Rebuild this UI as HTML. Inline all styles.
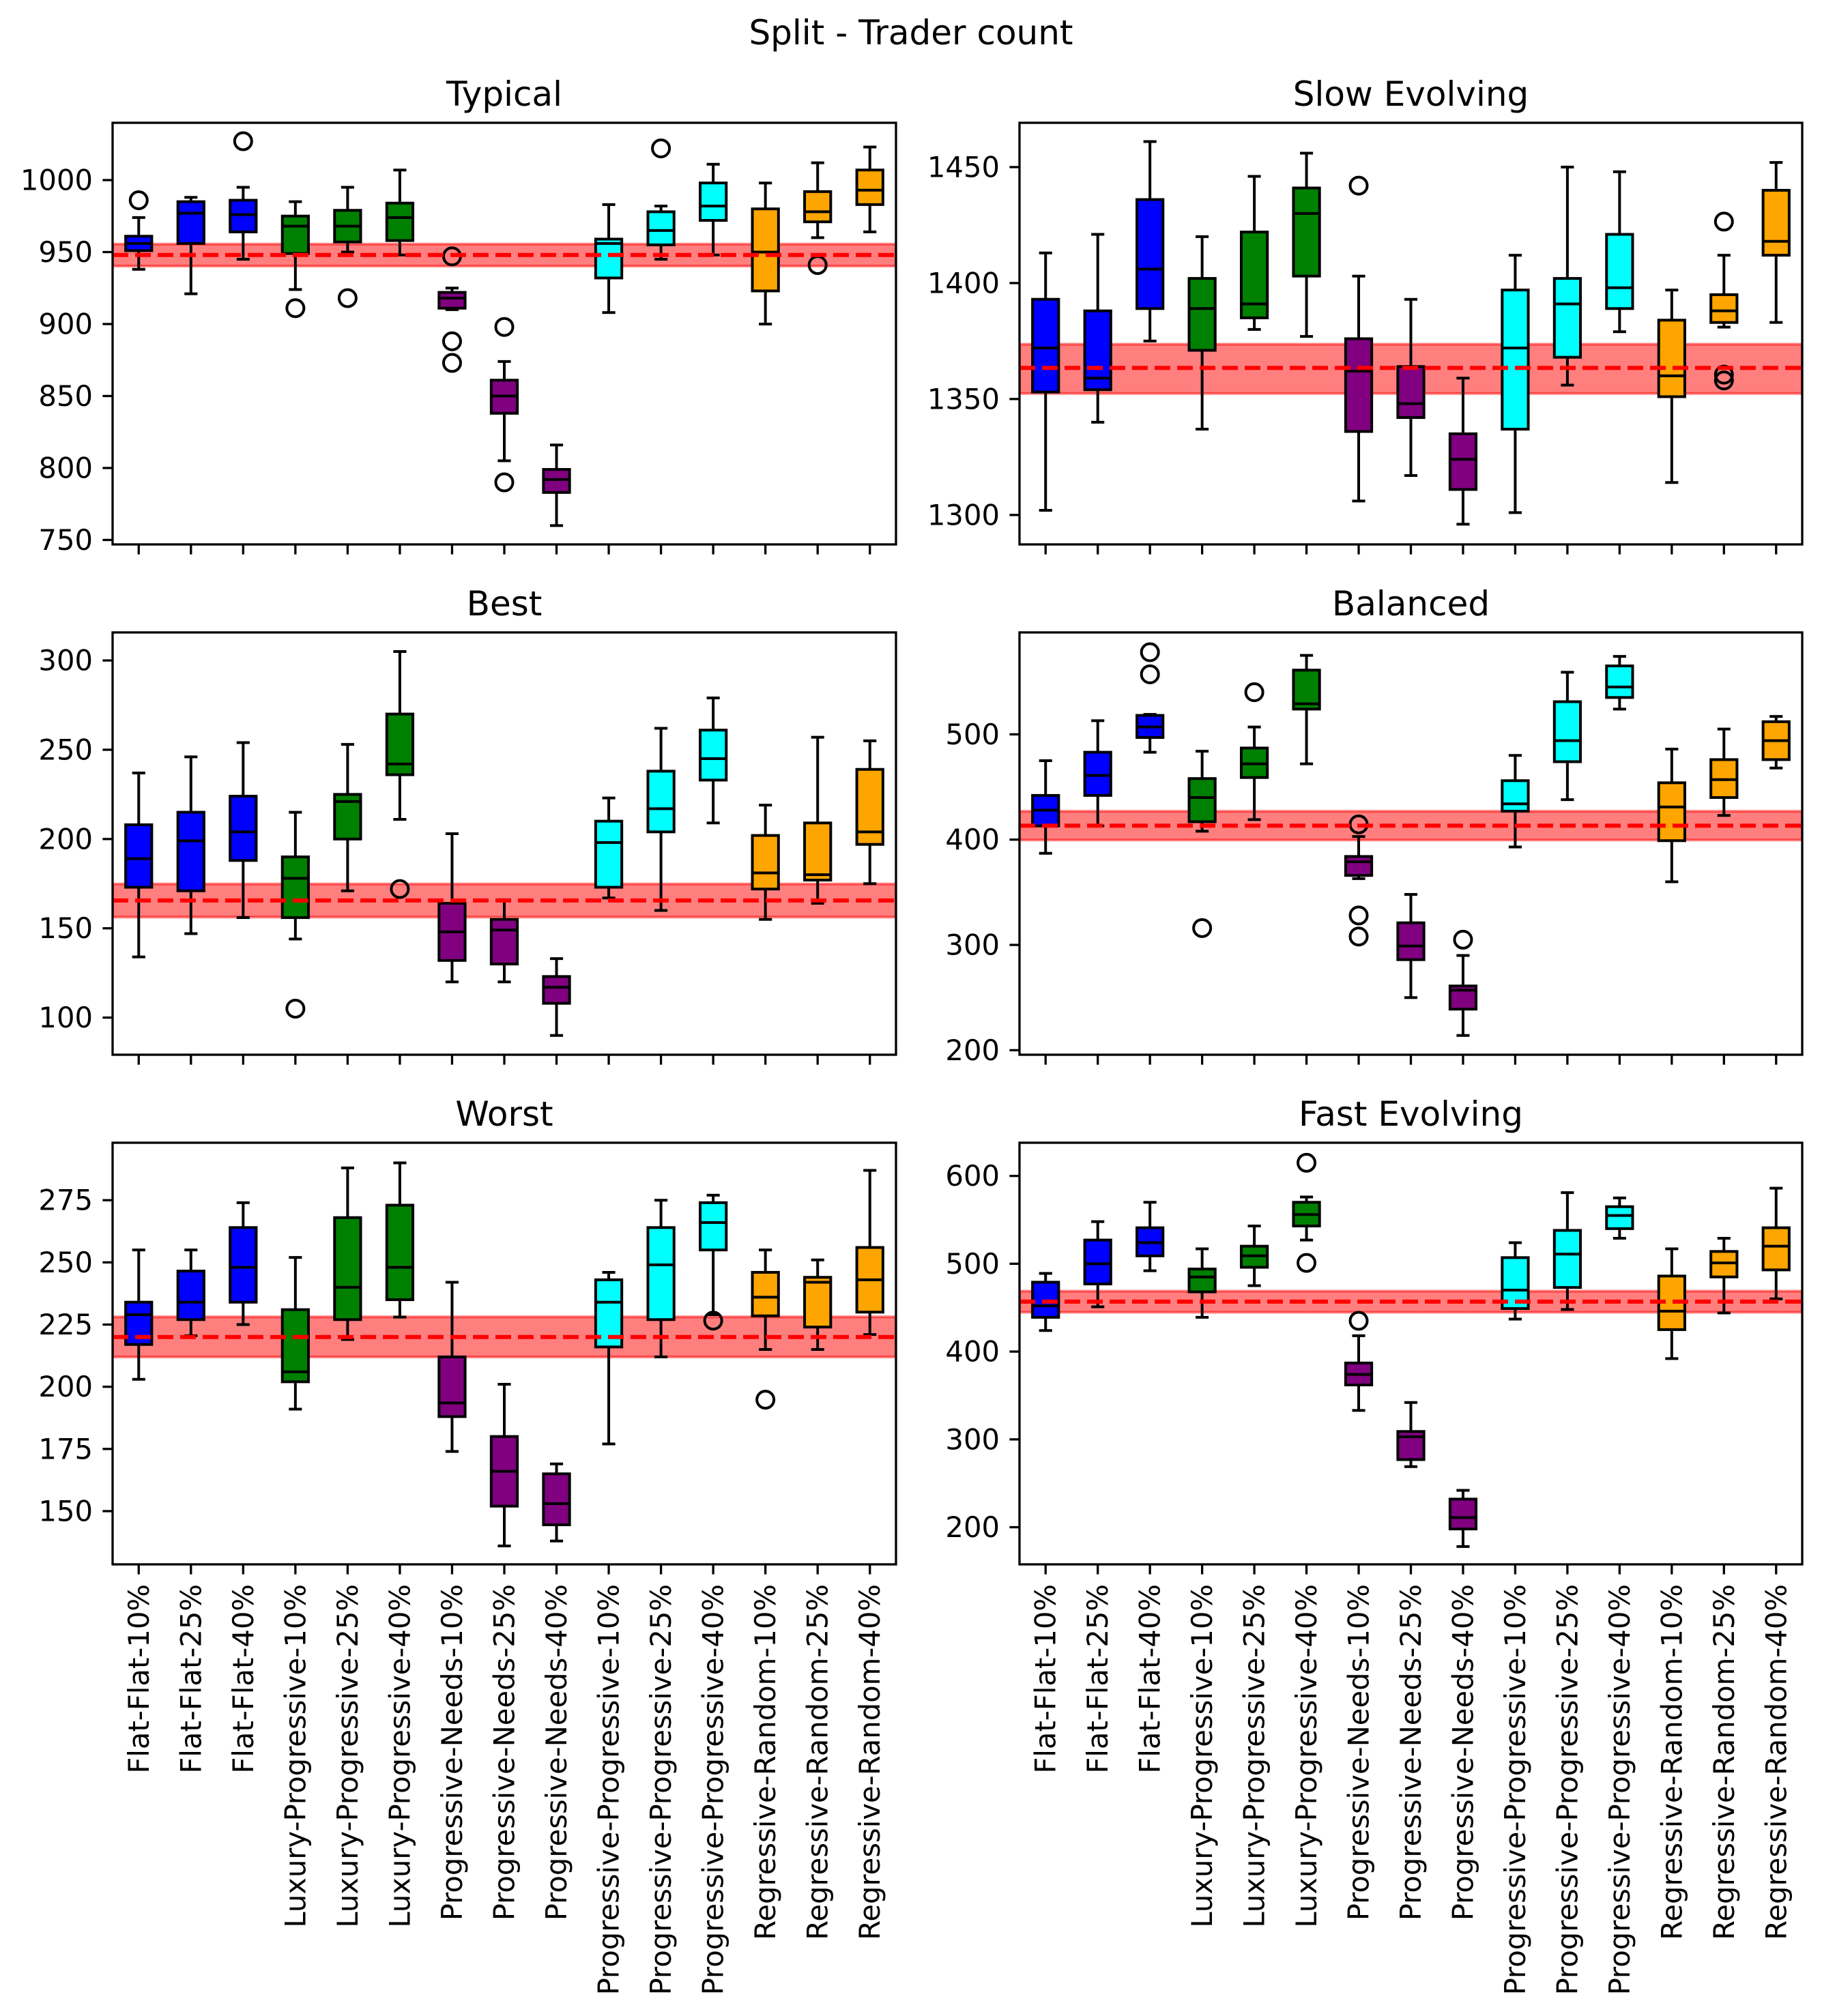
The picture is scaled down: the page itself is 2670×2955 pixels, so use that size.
<!DOCTYPE html>
<html><head><meta charset="utf-8"><style>
html,body{margin:0;padding:0;background:#fff;}
svg{display:block;font-family:"DejaVu Sans","Liberation Sans",sans-serif;}
</style></head><body>
<svg id="fig" width="2670" height="2955" viewBox="0 0 2670 2955" xmlns="http://www.w3.org/2000/svg">
<rect width="2670" height="2955" fill="#fff"/>
<text x="1335" y="65" text-anchor="middle" font-size="50">Split - Trader count</text>
</svg>
<script>
const categories = ["Flat-Flat-10%","Flat-Flat-25%","Flat-Flat-40%","Luxury-Progressive-10%","Luxury-Progressive-25%","Luxury-Progressive-40%","Progressive-Needs-10%","Progressive-Needs-25%","Progressive-Needs-40%","Progressive-Progressive-10%","Progressive-Progressive-25%","Progressive-Progressive-40%","Regressive-Random-10%","Regressive-Random-25%","Regressive-Random-40%"];
const boxColors = ["#0000ff","#0000ff","#0000ff","#008000","#008000","#008000","#800080","#800080","#800080","#00ffff","#00ffff","#00ffff","#ffa500","#ffa500","#ffa500"];

// [whisker-low, q1, median, q3, whisker-high]
const typicalStats = [[938,951,956,961,974],[921,956,977,985,988],[945,964,976,986,995],[924,949,968,975,985],[950,957,968,979,995],[948,958,974,984,1007],[910,911,918,922,925],[805,838,850,861,874],[760,783,792,799,816],[908,932,956,959,983],[945,955,965,978,982],[948,972,982,998,1011],[900,923,950,980,998],[960,971,978,992,1012],[964,983,993,1007,1023]];
const typicalFliers = [[986],[],[1027],[911],[918],[],[947,888,873],[898,790],[],[],[1022],[],[],[941],[]];
const typicalBand = [940.3,948,955.5];
const typicalTicks = [750,800,850,900,950,1000];

const slowStats = [[1302,1353,1372,1393,1413],[1340,1354,1359,1388,1421],[1375,1389,1406,1436,1461],[1337,1371,1389,1402,1420],[1380,1385,1391,1422,1446],[1377,1403,1430,1441,1456],[1306,1336,1362,1376,1403],[1317,1342,1348,1364,1393],[1296,1311,1324,1335,1359],[1301,1337,1372,1397,1412],[1356,1368,1391,1402,1450],[1379,1389,1398,1421,1448],[1314,1351,1360,1384,1397],[1381,1383,1388,1395,1412],[1383,1412,1418,1440,1452]];
const slowFliers = [[],[],[],[],[],[],[1442],[],[],[],[],[],[],[1426.5,1360.5,1358],[]];
const slowBand = [1352.4,1363.4,1373.6];
const slowTicks = [1300,1350,1400,1450];

const bestStats = [[134,173,189,208,237],[147,171,199,215,246],[156,188,204,224,254],[144,156,178,190,215],[171,200,221,225,253],[211,236,242,270,305],[120,132,148,164,203],[120,130,149,155,166],[90,108,117,123,133],[167,173,198,210,223],[160,204,217,238,262],[209,233,245,261,279],[155,172,181,202,219],[164,177,180,209,257],[175,197,204,239,255]];
const bestFliers = [[],[],[],[105],[],[172],[],[],[],[],[],[],[],[],[]];
const bestBand = [156.3,165.6,174.8];
const bestTicks = [100,150,200,250,300];

const balancedStats = [[387,413,428,442,475],[413,442,461,483,513],[483,497,507,518,519],[408,417,440,458,484],[419,459,472,487,507],[472,524,529,561,575],[363,366,379,384,403],[250,286,299,321,348],[214,239,257,261,290],[393,427,434,456,480],[438,474,494,531,559],[524,535,545,565,574],[360,399,431,454,486],[423,440,457,476,505],[468,476,494,512,517]];
const balancedFliers = [[],[],[578,557],[316],[540],[],[414.5,328,308],[],[305],[],[],[],[],[],[]];
const balancedBand = [399.7,413.3,426.9];
const balancedTicks = [200,300,400,500];

const worstStats = [[203,217,229,234,255],[220.5,227,234,246.5,255],[225,234,248,264,274],[191,202,206,231,252],[219,227,240,268,288],[228,235,248,273,290],[174,188,193.5,212,242],[136,152,166,180,201],[138,144.5,153,165,169],[177,216,234,243,246],[212,227,249,264,275],[229,255,266,274,277],[215,228.5,236,246,255],[215,224,242,244,251],[221,230,243,256,287]];
const worstFliers = [[],[],[],[],[],[],[],[],[],[],[],[226.6],[194.8],[],[]];
const worstBand = [212,220,228.1];
const worstTicks = [150,175,200,225,250,275];

const fastStats = [[424,439,452,479,489],[451,477,500,527,548],[492,509,524,541,570],[439,468,485,494,517],[475,496,509,520,543],[527,543,556,570,576],[333,362,374,387,418],[269,277,303,309,342],[178,198,211,232,242],[437,449,470,507,524],[448,473,511,538,581],[529,540,555,565,575],[392,425,446,486,517],[444,485,501,514,529],[460,493,520,541,586]];
const fastFliers = [[],[],[],[],[],[615,501],[435],[],[],[],[],[],[],[],[]];
const fastBand = [444.8,456.9,468.7];
const fastTicks = [200,300,400,500,600];

const panelTitles = ["Typical","Slow Evolving","Best","Balanced","Worst","Fast Evolving"];
const panelYMin = [746.9,1287.3,79.2,195.7,128.6,157.7];
const panelYMax = [1039.8,1469.1,315.7,596.8,298.1,637.8];

const panelStats = [typicalStats,slowStats,bestStats,balancedStats,worstStats,fastStats];
const panelFliers = [typicalFliers,slowFliers,bestFliers,balancedFliers,worstFliers,fastFliers];
const panelBands = [typicalBand,slowBand,bestBand,balancedBand,worstBand,fastBand];
const panelTicks = [typicalTicks,slowTicks,bestTicks,balancedTicks,worstTicks,fastTicks];
const panelNames = ["typical","slow-evolving","best","balanced","worst","fast-evolving"];

const NS = "http://www.w3.org/2000/svg";
const svg = document.getElementById("fig");
function mk(tag, attrs, parent){
  const e = document.createElementNS(NS, tag);
  for (const k in attrs) e.setAttribute(k, attrs[k]);
  (parent||svg).appendChild(e);
  return e;
}
const colL = [165, 1494], colR = [1313, 2641];
const rowT = [180, 927, 1675], rowB = [798, 1546, 2293];

for (let p = 0; p < 6; p++) {
  const c = p % 2, r = Math.floor(p / 2);
  const L = colL[c], R = colR[c], T = rowT[r], B = rowB[r];
  const ymin = panelYMin[p], ymax = panelYMax[p];
  const n = categories.length;
  const xs = i => L + (i + 0.5) * (R - L) / n;
  const ys = v => B - (v - ymin) / (ymax - ymin) * (B - T);
  const bw = (R - L) / n * 0.5;
  const g = mk("g", {});
  
  

  const clip = mk("clipPath", {id: "clip" + p}, g);
  mk("rect", {x: L, y: T, width: R - L, height: B - T}, clip);
  const inner = mk("g", {"clip-path": "url(#clip" + p + ")"}, g);

  const band = panelBands[p];
  const br = mk("rect", {x: L, y: ys(band[2]), width: R - L, height: ys(band[0]) - ys(band[2]), fill: "rgba(255,0,0,0.5)", stroke: "rgba(255,0,0,0.5)", "stroke-width": 4}, inner);
  
  

  const st = panelStats[p];
  for (let i = 0; i < n; i++) {
    const [lo, q1, md, q3, hi] = st[i];
    const x = xs(i);
    const bg = mk("g", {}, inner);
    
    
    const sw = 4;
    mk("line", {x1: x, x2: x, y1: ys(lo), y2: ys(q1), stroke: "#000", "stroke-width": sw}, bg);
    mk("line", {x1: x, x2: x, y1: ys(q3), y2: ys(hi), stroke: "#000", "stroke-width": sw}, bg);
    mk("line", {x1: x - bw / 4, x2: x + bw / 4, y1: ys(lo), y2: ys(lo), stroke: "#000", "stroke-width": sw}, bg);
    mk("line", {x1: x - bw / 4, x2: x + bw / 4, y1: ys(hi), y2: ys(hi), stroke: "#000", "stroke-width": sw}, bg);
    mk("rect", {x: x - bw / 2, y: ys(q3), width: bw, height: ys(q1) - ys(q3), fill: boxColors[i], stroke: "#000", "stroke-width": sw}, bg);
    mk("line", {x1: x - bw / 2, x2: x + bw / 2, y1: ys(md), y2: ys(md), stroke: "#000", "stroke-width": sw}, bg);
    for (const f of panelFliers[p][i]) {
      const fc = mk("circle", {cx: x, cy: ys(f), r: 12.5, fill: "none", stroke: "#000", "stroke-width": 4}, bg);
      
      
    }
  }
  const dl = mk("line", {x1: L, x2: R, y1: ys(band[1]), y2: ys(band[1]), stroke: "#ff0000", "stroke-width": 6, "stroke-dasharray": "23 10"}, inner);
  
  

  const fr = mk("rect", {x: L, y: T, width: R - L, height: B - T, fill: "none", stroke: "#000", "stroke-width": 3.3}, g);
  
  

  for (const t of panelTicks[p]) {
    const y = ys(t);
    mk("line", {x1: L - 14.6, x2: L, y1: y, y2: y, stroke: "#000", "stroke-width": 3.3}, g);
    const tl = mk("text", {x: L - 29, y: y, "text-anchor": "end", "dominant-baseline": "central", "font-size": 41.7}, g);
    tl.textContent = t;
    
    
  }
  for (let i = 0; i < n; i++) {
    const x = xs(i);
    mk("line", {x1: x, x2: x, y1: B, y2: B + 14.6, stroke: "#000", "stroke-width": 3.3}, g);
    if (r === 2) {
      const xl = mk("text", {x: 0, y: 0, transform: "translate(" + x + "," + (B + 29) + ") rotate(-90)", "text-anchor": "end", "dominant-baseline": "central", "font-size": 41.7}, g);
      xl.textContent = categories[i];
      
      
    }
  }
  const tt = mk("text", {x: (L + R) / 2, y: T - 25, "text-anchor": "middle", "font-size": 50}, g);
  tt.textContent = panelTitles[p];
  
  
}
</script>
</body></html>
